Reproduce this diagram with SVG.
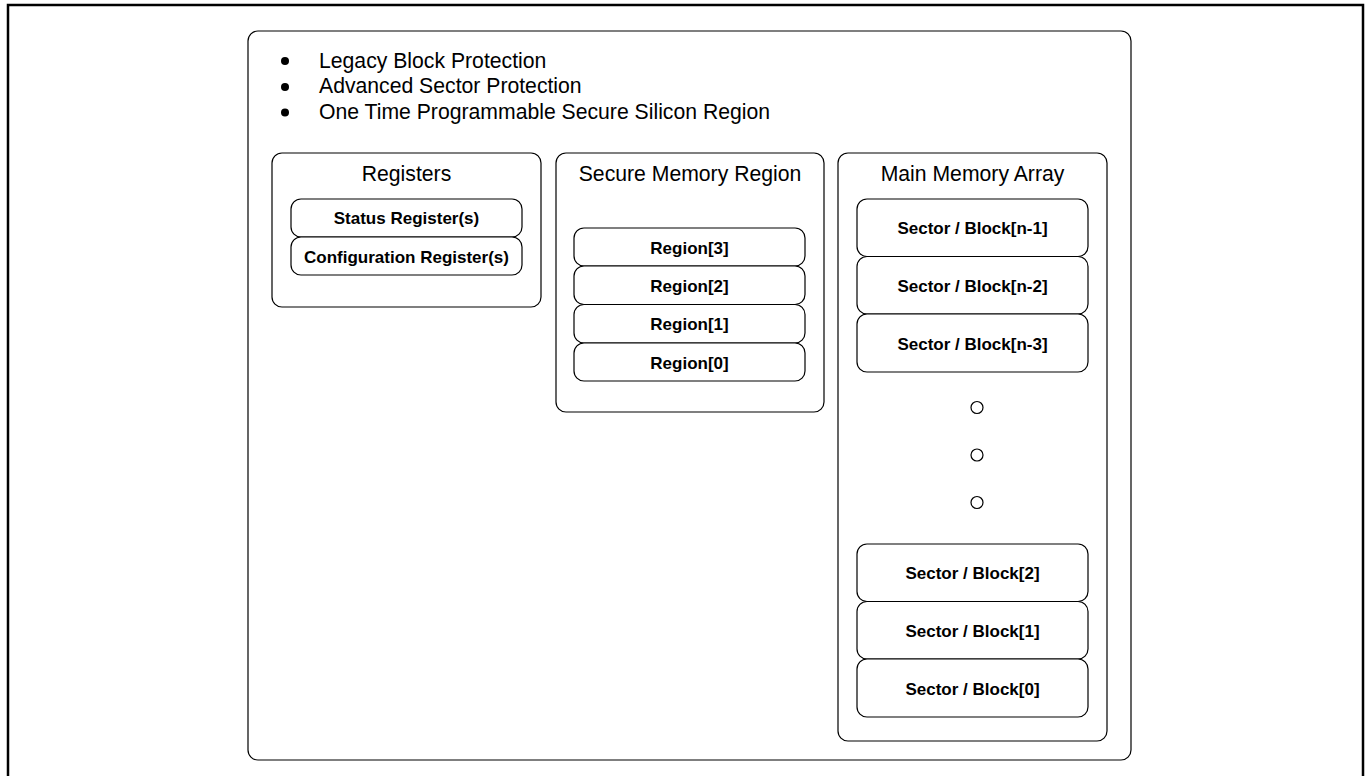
<svg xmlns="http://www.w3.org/2000/svg" width="1369" height="776" viewBox="0 0 1369 776">
<style>
.box{fill:#fff;stroke:#000;stroke-width:1.2}
.t{font-family:"Liberation Sans",Arial,sans-serif;font-size:21.2px;fill:#000}
.b{font-family:"Liberation Sans",Arial,sans-serif;font-size:17px;font-weight:bold;fill:#000;text-anchor:middle}
.c{text-anchor:middle}
</style>
<rect x="8" y="5" width="1355" height="790" fill="#fff" stroke="#000" stroke-width="2.5"/>
<g id="device">
<rect class="box" x="248" y="31" width="883" height="729" rx="10"/>
<circle cx="285" cy="61" r="4"/>
<circle cx="285" cy="87" r="4"/>
<circle cx="285" cy="112.5" r="4"/>
<text class="t" x="319" y="67.5">Legacy Block Protection</text>
<text class="t" x="319" y="93">Advanced Sector Protection</text>
<text class="t" x="319" y="118.5">One Time Programmable Secure Silicon Region</text>
</g>
<g id="registers">
<rect class="box" x="272" y="153" width="269" height="154" rx="10"/>
<text class="t c" x="406.5" y="181">Registers</text>
<rect class="box" x="291" y="199" width="231" height="38" rx="10"/>
<text class="b" x="406.5" y="224">Status Register(s)</text>
<rect class="box" x="291" y="237" width="231" height="38" rx="10"/>
<text class="b" x="406.5" y="263">Configuration Register(s)</text>
</g>
<g id="secure">
<rect class="box" x="556" y="153" width="268" height="259" rx="10"/>
<text class="t c" x="690" y="181">Secure Memory Region</text>
<rect class="box" x="574" y="228" width="231" height="38" rx="10"/>
<text class="b" x="689.5" y="253.5">Region[3]</text>
<rect class="box" x="574" y="266" width="231" height="38.5" rx="10"/>
<text class="b" x="689.5" y="291.5">Region[2]</text>
<rect class="box" x="574" y="304.5" width="231" height="38.5" rx="10"/>
<text class="b" x="689.5" y="330">Region[1]</text>
<rect class="box" x="574" y="343" width="231" height="38" rx="10"/>
<text class="b" x="689.5" y="368.5">Region[0]</text>
</g>
<g id="main">
<rect class="box" x="838" y="153" width="269" height="588" rx="10"/>
<text class="t c" x="972.5" y="181">Main Memory Array</text>
<rect class="box" x="857" y="199" width="231" height="57.5" rx="10"/>
<text class="b" x="972.5" y="234">Sector / Block[n-1]</text>
<rect class="box" x="857" y="256.5" width="231" height="57.5" rx="10"/>
<text class="b" x="972.5" y="291.5">Sector / Block[n-2]</text>
<rect class="box" x="857" y="314" width="231" height="58" rx="10"/>
<text class="b" x="972.5" y="349.5">Sector / Block[n-3]</text>
<circle class="box" cx="977" cy="407.5" r="6"/>
<circle class="box" cx="977" cy="455" r="6"/>
<circle class="box" cx="977" cy="502.5" r="6"/>
<rect class="box" x="857" y="544" width="231" height="57.5" rx="10"/>
<text class="b" x="972.5" y="579">Sector / Block[2]</text>
<rect class="box" x="857" y="601.5" width="231" height="57.5" rx="10"/>
<text class="b" x="972.5" y="636.5">Sector / Block[1]</text>
<rect class="box" x="857" y="659" width="231" height="58" rx="10"/>
<text class="b" x="972.5" y="694.5">Sector / Block[0]</text>
</g>
<g id="connectors"/>
</svg>
